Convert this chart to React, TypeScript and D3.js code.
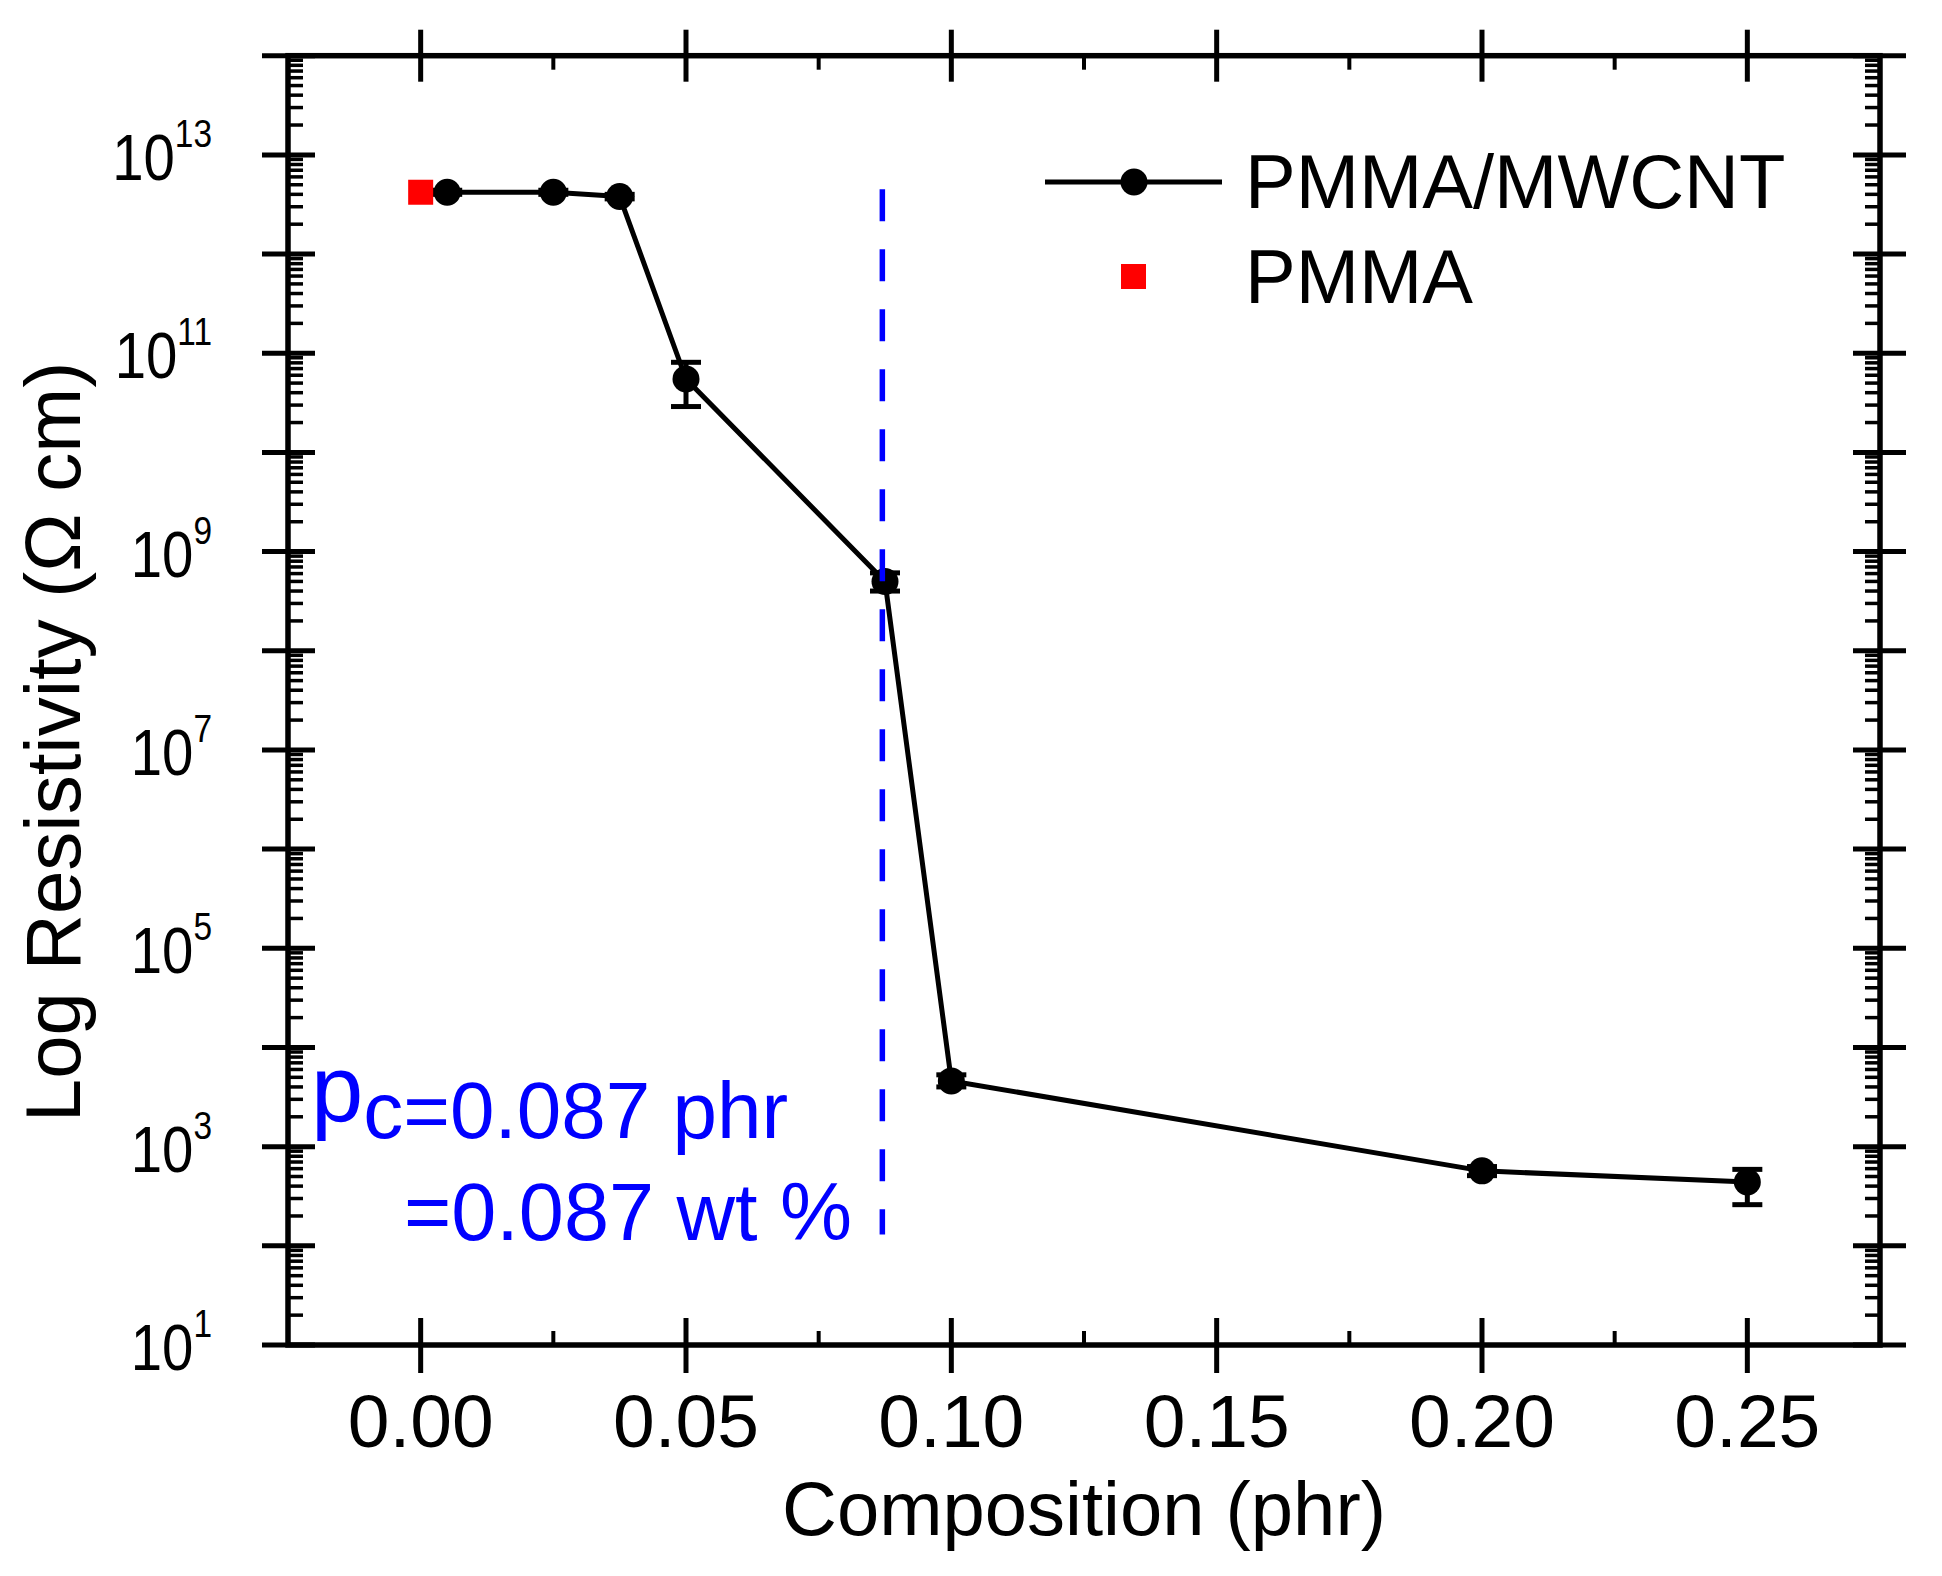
import * as d3 from "d3";
import { useEffect, useRef } from "react";

const W = 1942;
const H = 1576;
const PLOT = { left: 288, right: 1880, top: 55.7, bottom: 1345 };
const FONT = "'Liberation Sans', Arial, Helvetica, sans-serif";

// PMMA/MWCNT series
const composition = [0.005, 0.025, 0.0375, 0.05, 0.0875, 0.1, 0.2, 0.25];
const resistivity = [4.2e12, 4.2e12, 3.8e12, 5.5e10, 5.0e8, 4.6e3, 5.7e2, 4.4e2];
const errLow = [4.0e12, 4.0e12, 3.6e12, 2.9e10, 4.0e8, 4.0e3, 5.1e2, 2.6e2];
const errHigh = [4.4e12, 4.4e12, 4.0e12, 8.1e10, 6.1e8, 5.3e3, 6.3e2, 5.9e2];

// neat PMMA
const pmmaX = [0];
const pmmaY = [4.2e12];

// percolation threshold marker
const pcX = 0.087;
const pcRange = [1.3e2, 4.5e12];

const xDomain = [-0.025, 0.275];
const xMajor = [0, 0.05, 0.1, 0.15, 0.2, 0.25];
const xMinor = [0.025, 0.075, 0.125, 0.175, 0.225];
const yExpMin = 1;
const yExpMax = 14;
const yLabelExps = [1, 3, 5, 7, 9, 11, 13];

export default function App() {
	const svgRef = useRef<SVGSVGElement>(null);

	useEffect(() => {
		const svg = svgRef.current;
		if (!svg) return;
		const root = d3.select(svg);
		root.selectAll("*").remove();

		const x = d3.scaleLinear().domain(xDomain).range([PLOT.left, PLOT.right]);
		const y = d3
			.scaleLog()
			.domain([10 ** yExpMin, 10 ** yExpMax])
			.range([PLOT.bottom, PLOT.top]);

		root.append("rect").attr("width", W).attr("height", H).attr("fill", "#fff");

		const axes = root.append("g").attr("stroke", "#000").attr("fill", "none");

		// ticks on all four sides
		const yMajor = d3.range(yExpMin, yExpMax + 1).map((e) => 10 ** e);
		const yMinor: number[] = [];
		for (let e = yExpMin; e < yExpMax; e++) {
			for (let m = 2; m <= 9; m++) yMinor.push(m * 10 ** e);
		}

		yMajor.forEach((v) => {
			const yy = y(v);
			axes.append("line").attr("x1", PLOT.left - 26).attr("x2", PLOT.left + 27).attr("y1", yy).attr("y2", yy).attr("stroke-width", 5);
			axes.append("line").attr("x1", PLOT.right - 27).attr("x2", PLOT.right + 26).attr("y1", yy).attr("y2", yy).attr("stroke-width", 5);
		});
		yMinor.forEach((v) => {
			const yy = y(v);
			axes.append("line").attr("x1", PLOT.left).attr("x2", PLOT.left + 15).attr("y1", yy).attr("y2", yy).attr("stroke-width", 3.5);
			axes.append("line").attr("x1", PLOT.right - 15).attr("x2", PLOT.right).attr("y1", yy).attr("y2", yy).attr("stroke-width", 3.5);
		});
		xMajor.forEach((v) => {
			const xx = x(v);
			axes.append("line").attr("x1", xx).attr("x2", xx).attr("y1", PLOT.bottom - 27).attr("y2", PLOT.bottom + 28).attr("stroke-width", 5);
			axes.append("line").attr("x1", xx).attr("x2", xx).attr("y1", PLOT.top - 26).attr("y2", PLOT.top + 26).attr("stroke-width", 5);
		});
		xMinor.forEach((v) => {
			const xx = x(v);
			axes.append("line").attr("x1", xx).attr("x2", xx).attr("y1", PLOT.bottom - 14).attr("y2", PLOT.bottom).attr("stroke-width", 4);
			axes.append("line").attr("x1", xx).attr("x2", xx).attr("y1", PLOT.top).attr("y2", PLOT.top + 14).attr("stroke-width", 4);
		});

		axes.append("rect")
			.attr("x", PLOT.left)
			.attr("y", PLOT.top)
			.attr("width", PLOT.right - PLOT.left)
			.attr("height", PLOT.bottom - PLOT.top)
			.attr("stroke-width", 5.5);

		// tick labels
		const labels = root.append("g").attr("font-family", FONT).attr("fill", "#000");
		xMajor.forEach((v) => {
			labels.append("text")
				.attr("x", x(v))
				.attr("y", 1447)
				.attr("text-anchor", "middle")
				.attr("font-size", 75)
				.text(d3.format(".2f")(v));
		});
		yLabelExps.forEach((e) => {
			// slightly condensed, like the original plotting program's labels
			const t = labels.append("text")
				.attr("transform", `translate(212,${y(10 ** e) + 25}) scale(0.88,1)`)
				.attr("text-anchor", "end")
				.attr("font-size", 64);
			t.append("tspan").text("10");
			t.append("tspan").attr("dy", -33).attr("font-size", 38).text(String(e));
		});

		// axis titles
		labels.append("text")
			.attr("x", (PLOT.left + PLOT.right) / 2)
			.attr("y", 1535)
			.attr("text-anchor", "middle")
			.attr("font-size", 76)
			.text("Composition (phr)");
		labels.append("text")
			.attr("transform", `translate(80,${742}) rotate(-90)`)
			.attr("text-anchor", "middle")
			.attr("font-size", 78)
			.text("Log Resistivity (\u03A9 cm)");

		// data series
		const pts = composition.map((c, i) => ({ c, r: resistivity[i], lo: errLow[i], hi: errHigh[i] }));
		const line = d3
			.line<{ c: number; r: number }>()
			.x((d) => x(d.c))
			.y((d) => y(d.r));
		root.append("path")
			.datum(pts)
			.attr("d", line)
			.attr("fill", "none")
			.attr("stroke", "#000")
			.attr("stroke-width", 5)
			.attr("stroke-linejoin", "round");

		const eb = root.append("g").attr("stroke", "#000").attr("stroke-width", 5);
		pts.forEach((d) => {
			const xx = x(d.c);
			eb.append("line").attr("x1", xx).attr("x2", xx).attr("y1", y(d.lo)).attr("y2", y(d.hi));
			eb.append("line").attr("x1", xx - 15).attr("x2", xx + 15).attr("y1", y(d.lo)).attr("y2", y(d.lo));
			eb.append("line").attr("x1", xx - 15).attr("x2", xx + 15).attr("y1", y(d.hi)).attr("y2", y(d.hi));
		});

		root.append("g")
			.selectAll("circle")
			.data(pts)
			.join("circle")
			.attr("cx", (d) => x(d.c))
			.attr("cy", (d) => y(d.r))
			.attr("r", 13.5)
			.attr("fill", "#000");

		pmmaX.forEach((c, i) => {
			root.append("rect")
				.attr("x", x(c) - 12.5)
				.attr("y", y(pmmaY[i]) - 12.5)
				.attr("width", 25)
				.attr("height", 25)
				.attr("fill", "#ff0000");
		});

		// percolation threshold
		root.append("line")
			.attr("x1", x(pcX))
			.attr("x2", x(pcX))
			.attr("y1", y(pcRange[1]))
			.attr("y2", y(pcRange[0]))
			.attr("stroke", "#0000ff")
			.attr("stroke-width", 5.5)
			.attr("stroke-dasharray", "32,28");

		const pc1 = root.append("text")
			.attr("x", 311)
			.attr("y", 1138)
			.attr("font-family", FONT)
			.attr("font-size", 80)
			.attr("fill", "#0000ff");
		pc1.append("tspan").attr("font-size", 94).attr("dy", -17).text("p");
		pc1.append("tspan").attr("dy", 17).text("c=0.087 phr");
		root.append("text")
			.attr("x", 404)
			.attr("y", 1240)
			.attr("font-family", FONT)
			.attr("font-size", 81)
			.attr("fill", "#0000ff")
			.text("=0.087 wt %");

		// legend
		const lg = root.append("g");
		lg.append("line").attr("x1", 1045).attr("x2", 1222).attr("y1", 182).attr("y2", 182).attr("stroke", "#000").attr("stroke-width", 5);
		lg.append("circle").attr("cx", 1134).attr("cy", 182).attr("r", 13.5).attr("fill", "#000");
		lg.append("rect").attr("x", 1121).attr("y", 264).attr("width", 25).attr("height", 25).attr("fill", "#ff0000");
		lg.append("text").attr("x", 1245).attr("y", 208).attr("font-family", FONT).attr("font-size", 76).text("PMMA/MWCNT");
		lg.append("text").attr("x", 1245).attr("y", 303).attr("font-family", FONT).attr("font-size", 76).text("PMMA");
	}, []);

	return (
		<svg
			ref={svgRef}
			width={W}
			height={H}
			viewBox={`0 0 ${W} ${H}`}
			style={{ position: "absolute", left: 0, top: 0, display: "block" }}
		/>
	);
}
